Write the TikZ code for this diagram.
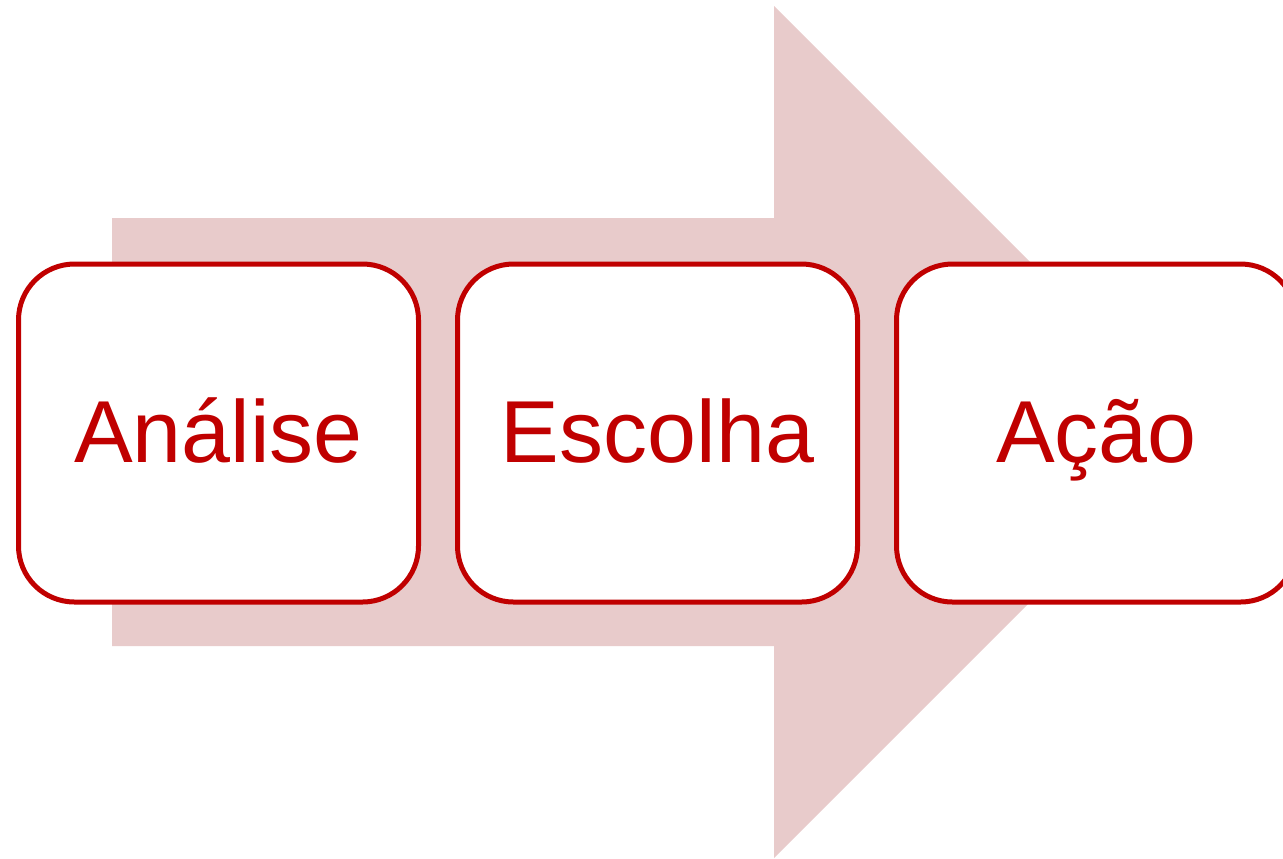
\documentclass[tikz,border=0pt]{standalone}
\usepackage{fontspec}
\setmainfont{Liberation Sans}
\usetikzlibrary{positioning}
\definecolor{darkred}{HTML}{C00000}
\definecolor{arrowpink}{HTML}{E8CBCB}

\begin{document}
\begin{tikzpicture}[
  x=0.5pt, y=-0.5pt,
  node distance=19.5pt,
  stage/.style={draw=darkred, line width=2.5pt, rounded corners=28pt, fill=white,
    minimum width=200pt, minimum height=169pt, inner sep=0pt, outer sep=0pt,
    text height=29pt, text depth=0pt,
    text=darkred, font=\fontsize{44}{48}\selectfont},
]
  \useasboundingbox (0,0) rectangle (1283,858);
  \clip (0,0) rectangle (1283,858);
  % big arrow behind
  \fill[arrowpink] (112,218) -- (774,218) -- (774,6) -- (1200,432)
    -- (774,858) -- (774,646) -- (112,646) -- cycle;
  % stages
  \node[stage] (analise) at (218.5,433) {Análise};
  \node[stage, right=of analise] (escolha) {Escolha};
  \node[stage, right=of escolha] (acao) {Ação};
\end{tikzpicture}
\end{document}
